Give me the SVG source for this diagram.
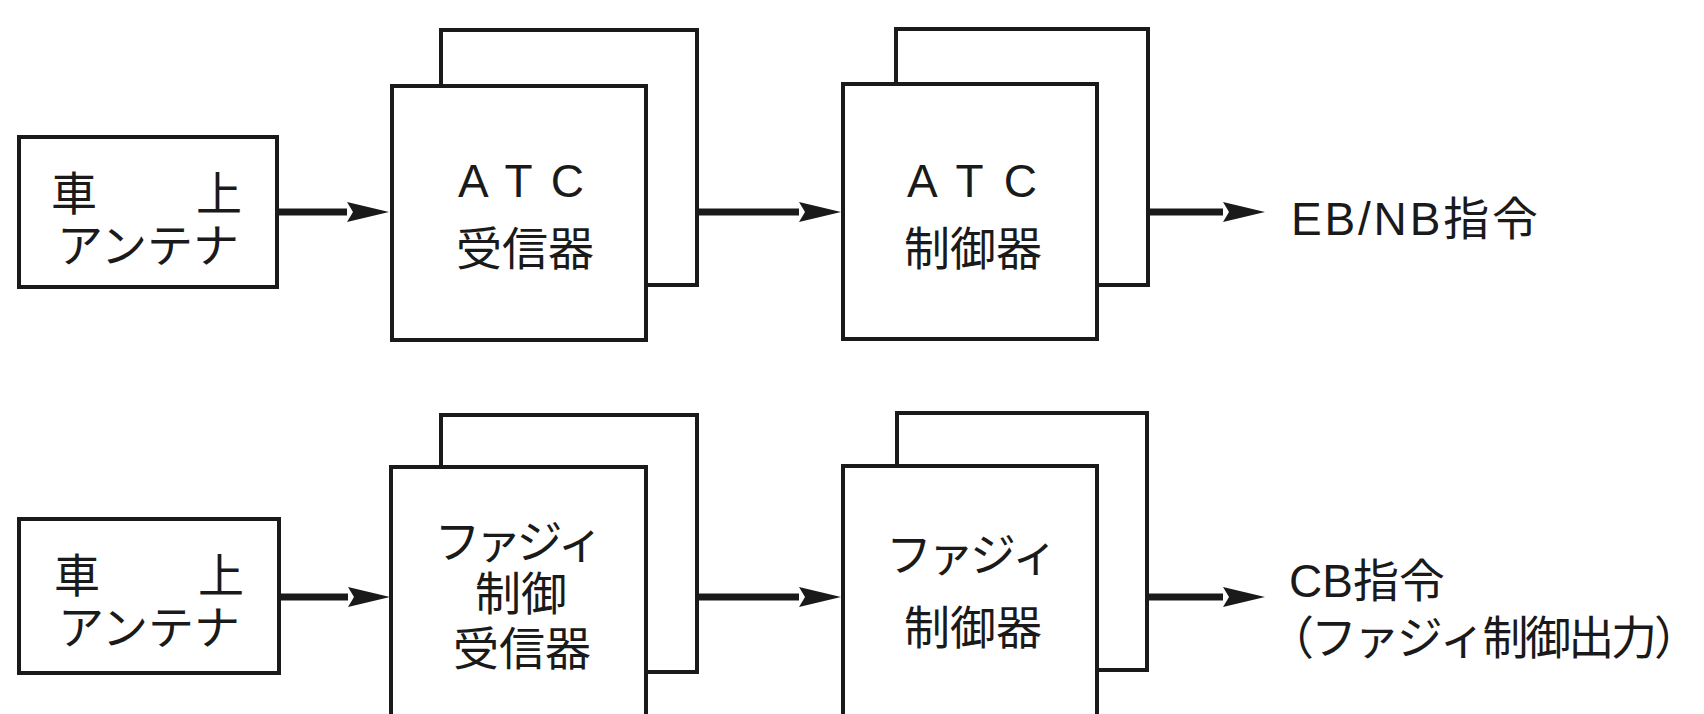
<svg xmlns="http://www.w3.org/2000/svg" width="1704" height="714" viewBox="0 0 1704 714">
<style>
.box{fill:#fff;stroke:#1a1a1a;stroke-width:4}
.cj{font-family:"Noto Sans CJK JP","Noto Sans",sans-serif;font-size:46px;fill:#1a1a1a}
.lt{font-family:"Liberation Sans","Noto Sans CJK JP",sans-serif;font-size:46px;fill:#1a1a1a}
.mid{text-anchor:middle}
.arr{stroke:#1a1a1a;stroke-width:7;fill:none;marker-end:url(#ah)}
</style>
<defs>
<marker id="ah" markerUnits="userSpaceOnUse" markerWidth="42" markerHeight="20" viewBox="0 0 42 20" refX="0" refY="10" orient="auto">
<path d="M0,0 L42,10 L0,20 L6,10 z" fill="#1a1a1a"/>
</marker>
</defs>
<rect width="1704" height="714" fill="#fff"/>

<g id="antenna1">
<rect class="box" x="19" y="137" width="258" height="150"/>
<text class="cj" y="210"><tspan x="51">車</tspan><tspan x="196">上</tspan></text>
<text class="cj mid" x="148" y="262">アンテナ</text>
</g>
<g id="atc-receiver">
<rect class="box" x="441" y="30" width="256" height="255"/>
<rect class="box" x="392" y="86" width="254" height="254"/>
<text class="lt mid" x="521" y="197" textLength="126" lengthAdjust="spacing">A T C</text>
<text class="cj mid" x="525" y="265">受信器</text>
</g>
<g id="atc-controller">
<rect class="box" x="896" y="29" width="252" height="256"/>
<rect class="box" x="843" y="84" width="254" height="255"/>
<text class="lt mid" x="972" y="197" textLength="130" lengthAdjust="spacing">A T C</text>
<text class="cj mid" x="973" y="265">制御器</text>
</g>
<g id="out1">
<text class="lt" x="1291" y="235" textLength="247" lengthAdjust="spacing">EB/NB指令</text>
</g>

<g id="antenna2">
<rect class="box" x="19" y="519" width="260" height="154"/>
<text class="cj" y="592"><tspan x="54">車</tspan><tspan x="198">上</tspan></text>
<text class="cj mid" x="149" y="644">アンテナ</text>
</g>
<g id="fuzzy-receiver">
<rect class="box" x="441" y="415" width="256" height="257"/>
<rect class="box" x="391" y="467" width="255" height="300"/>
<text class="cj mid" x="519" y="558" textLength="169" lengthAdjust="spacing">ファジィ</text>
<text class="cj mid" x="521" y="610">制御</text>
<text class="cj mid" x="522" y="665">受信器</text>
</g>
<g id="fuzzy-controller">
<rect class="box" x="897" y="413" width="250" height="257"/>
<rect class="box" x="843" y="466" width="254" height="300"/>
<text class="cj mid" x="972" y="571" textLength="172" lengthAdjust="spacing">ファジィ</text>
<text class="cj mid" x="973" y="644">制御器</text>
</g>
<g id="out2">
<text class="lt" x="1289" y="597">CB指令</text>
<text class="cj" x="1268" y="654" textLength="432" lengthAdjust="spacing">（ファジィ制御出力）</text>
</g>

<g id="connectors">
<line class="arr" x1="277" y1="212" x2="347" y2="212"/>
<line class="arr" x1="697" y1="212" x2="799" y2="212"/>
<line class="arr" x1="1148" y1="212" x2="1223" y2="212"/>
<line class="arr" x1="279" y1="597" x2="348" y2="597"/>
<line class="arr" x1="697" y1="597" x2="799" y2="597"/>
<line class="arr" x1="1147" y1="597" x2="1223" y2="597"/>
</g>
</svg>
